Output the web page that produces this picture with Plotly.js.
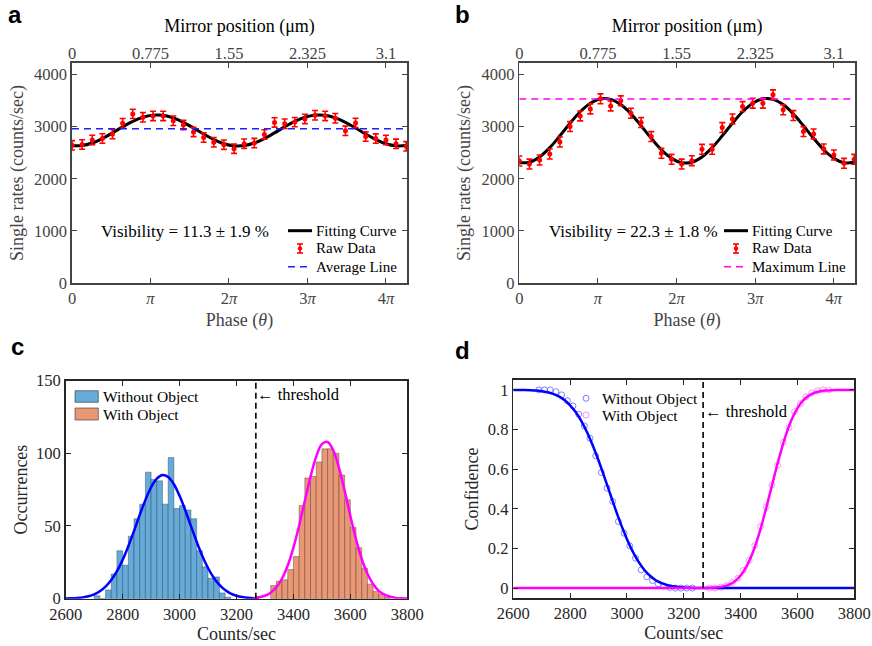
<!DOCTYPE html>
<html><head><meta charset="utf-8">
<script src="https://cdn.plot.ly/plotly-3.0.1.min.js"></script>
<style>html,body{margin:0;padding:0;background:#fff}#chart{width:872px;height:646px}</style>
</head><body><div id="chart"></div>
<script>
// ---------- Panels a / b : interference fringes ----------
const mirrorPos = [0,0.1,0.2,0.3,0.4,0.5,0.6,0.7,0.8,0.9,1.0,1.1,1.2,1.3,1.4,1.5,1.6,1.7,1.8,1.9,2.0,2.1,2.2,2.3,2.4,2.5,2.6,2.7,2.8,2.9,3.0,3.1,3.2,3.3];
const rawA = [2641,2657,2744,2772,2856,3064,3244,3179,3205,3205,3112,3029,2898,2790,2700,2653,2577,2673,2685,2850,3080,3055,3086,3148,3218,3205,3160,2920,3070,2808,2770,2744,2670,2622];
const errA = [90,90,90,90,90,90,90,90,90,90,90,90,90,90,90,90,90,90,90,90,90,90,90,90,90,90,90,90,90,90,90,90,90,90];
const fitA = [2632,2636,2685,2770,2880,2995,3101,3180,3220,3216,3167,3082,2972,2857,2751,2672,2632,2636,2685,2770,2880,2995,3101,3180,3220,3216,3167,3082,2972,2857,2751,2672,2632,2636];
const avgA = 2960;
const rawB = [2340,2282,2359,2474,2705,3000,3205,3340,3532,3397,3494,3256,3077,2808,2487,2372,2282,2346,2564,2564,2981,3147,3385,3449,3449,3609,3321,3212,2904,2859,2571,2455,2295,2372];
const errB = [95,95,95,95,95,95,95,95,95,95,95,95,95,95,95,95,95,95,95,95,95,95,95,95,95,95,95,95,95,95,95,95,95,95];
const fitB = [2307,2317,2418,2596,2823,3064,3285,3449,3533,3523,3422,3244,3017,2776,2555,2391,2307,2317,2418,2596,2823,3064,3285,3449,3533,3523,3422,3244,3017,2776,2555,2391,2307,2317];
const maxB = 3530;
// one phase period (pi) corresponds to 0.775 um of mirror travel
const mirrorTicks = [0,0.775,1.55,2.325,3.1];
const mirrorTickText = ['0','0.775','1.55','2.325','3.1'];
const phaseTickText = ['0','<i>π</i>','2<i>π</i>','3<i>π</i>','4<i>π</i>'];
const rateTicks = [0,1000,2000,3000,4000];
const visTextA = 'Visibility = 11.3 ± 1.9 %';
const visTextB = 'Visibility = 22.3 ± 1.8 %';

// ---------- Panel c : histograms ----------
const binCentersWithout = [2710,2730,2750,2770,2790,2810,2830,2850,2870,2890,2910,2930,2950,2970,2990,3010,3030,3050,3070,3090,3110,3130,3150,3170];
const countsWithout     = [2,0,6,17,33,23,43,55,65,87,82,81,65,97,62,64,61,55,33,22,14,15,4,1];
const binCentersWith = [3330,3350,3370,3390,3410,3430,3450,3470,3490,3510,3530,3550,3570,3590,3610,3630,3650,3670,3690,3710,3730];
const countsWith     = [9,12,13,20,29,64,83,84,94,103,103,100,85,68,49,35,21,10,5,3,1];
const binWidth = 20;
const gaussX1 = [2600,2620,2640,2660,2680,2700,2720,2740,2760,2780,2800,2820,2840,2860,2880,2900,2920,2940,2960,2980,3000,3020,3040,3060,3080,3100,3120,3140,3160,3180,3200,3220,3240,3260,3280];
const gaussY1 = [0.11,0.23,0.47,0.91,1.70,3.01,5.10,8.25,12.8,18.9,26.7,36.1,46.6,57.6,67.9,76.6,82.5,85.0,83.6,78.7,70.7,60.8,49.9,39.2,29.4,21.1,14.4,9.45,5.92,3.54,2.03,1.11,0.58,0.29,0.14];
const gaussX2 = [3260,3280,3300,3320,3340,3360,3380,3400,3420,3440,3460,3480,3500,3520,3540,3560,3580,3600,3620,3640,3660,3680,3700,3720,3740,3760,3780,3800];
const gaussY2 = [0.41,0.94,2.05,4.16,7.85,13.9,22.8,35.1,50.3,67.2,83.9,97.7,106.2,107.7,101.9,89.9,74.1,56.9,40.8,27.3,17.1,9.94,5.40,2.74,1.30,0.57,0.24,0.09];
const threshold = 3268;
const countTicks = [2600,2800,3000,3200,3400,3600,3800];

// ---------- Panel d : confidence ----------
const confXWithout = [2690,2710,2730,2750,2770,2790,2810,2830,2850,2870,2890,2910,2930,2950,2970,2990,3010,3030,3050,3070,3090,3110,3130,3150,3170,3190,3210,3230];
const confWithout  = [1.0,1.0,1.0,0.991,0.975,0.945,0.919,0.877,0.818,0.756,0.667,0.583,0.504,0.437,0.336,0.277,0.213,0.151,0.092,0.057,0.038,0.022,0.01,0.003,0,0,0,0];
const confXWith = [3290,3310,3330,3350,3370,3390,3410,3430,3450,3470,3490,3510,3530,3550,3570,3590,3610,3630,3650,3670,3690,3710];
const confWith  = [0.0,0.0,0.005,0.012,0.028,0.05,0.09,0.14,0.215,0.31,0.41,0.52,0.62,0.735,0.81,0.89,0.93,0.965,0.985,0.995,1.0,1.0];
const fitXWithout = [2600,2620,2640,2660,2680,2700,2720,2740,2760,2780,2800,2820,2840,2860,2880,2900,2920,2940,2960,2980,3000,3020,3040,3060,3080,3100,3120,3140,3160,3180,3200,3220,3240,3260,3280,3400,3500,3600,3700,3800];
const fitWithout  = [0.9998,0.9995,0.999,0.9981,0.9964,0.9933,0.9882,0.98,0.9673,0.9487,0.9223,0.887,0.8413,0.785,0.7187,0.6437,0.5628,0.4789,0.3963,0.3178,0.247,0.1855,0.1346,0.0941,0.0635,0.0412,0.0258,0.0155,0.0089,0.005,0.0026,0.0013,0.0007,0.0003,0,0,0,0,0,0];
const fitXWith = [2600,2700,2800,2900,3000,3100,3200,3260,3280,3300,3320,3340,3360,3380,3400,3420,3440,3460,3480,3500,3520,3540,3560,3580,3600,3620,3640,3660,3680,3700,3720,3740,3760,3780,3800];
const fitWith  = [0,0,0,0,0,0,0,0.0002,0.0006,0.0016,0.0038,0.0085,0.0179,0.0348,0.0632,0.107,0.1693,0.2511,0.3498,0.4602,0.5737,0.6813,0.7755,0.8515,0.908,0.9467,0.9713,0.9856,0.9933,0.9971,0.9988,0.9996,0.9998,1,1];
const confTicks = [0,0.2,0.4,0.6,0.8,1];
const confTickText = ['0','0.2','0.4','0.6','0.8','1'];

// ---------- styling ----------
const serif = 'Liberation Serif, Times New Roman, serif';
const W = 872, H = 646;
const X = p => p / W, Y = p => 1 - p / H;
const mirrorMax = 3.308;

function axis(o, labelColor, lineColor) {
  return Object.assign({
    showline: true, linecolor: lineColor, linewidth: 1.6, mirror: 'ticks',
    ticks: 'inside', ticklen: 5, tickwidth: 1, tickcolor: lineColor,
    showgrid: false, zeroline: false, fixedrange: true,
    tickfont: {family: serif, size: 16.5, color: labelColor}
  }, o);
}
function ttl(text, color, standoff) {
  return {text: text, font: {family: serif, size: 18, color: color}, standoff: standoff};
}
const gA = '#444444', gC = '#262626';

const traces = [
  // a
  {x: mirrorPos, y: fitA, xaxis: 'x', yaxis: 'y', mode: 'lines', line: {color: '#000', width: 3, shape: 'spline'}},
  {x: [0, mirrorMax], y: [avgA, avgA], xaxis: 'x2', yaxis: 'y', mode: 'lines', line: {color: '#1f1fff', width: 1.6, dash: '7px,5px'}},
  {x: mirrorPos, y: rawA, xaxis: 'x', yaxis: 'y', mode: 'markers', marker: {color: '#ff0000', size: 5},
   error_y: {type: 'data', array: errA, color: '#ff0000', thickness: 1.6, width: 3}},
  // b
  {x: mirrorPos, y: fitB, xaxis: 'x3', yaxis: 'y3', mode: 'lines', line: {color: '#000', width: 3, shape: 'spline'}},
  {x: [0, mirrorMax], y: [maxB, maxB], xaxis: 'x4', yaxis: 'y3', mode: 'lines', line: {color: '#ff00ff', width: 1.6, dash: '7px,5px'}},
  {x: mirrorPos, y: rawB, xaxis: 'x3', yaxis: 'y3', mode: 'markers', marker: {color: '#ff0000', size: 5},
   error_y: {type: 'data', array: errB, color: '#ff0000', thickness: 1.6, width: 3}},
  // c
  {type: 'bar', x: binCentersWithout, y: countsWithout, width: binWidth, xaxis: 'x5', yaxis: 'y5',
   marker: {color: 'rgb(102,170,215)', line: {color: 'rgba(30,50,70,0.55)', width: 0.7}}},
  {type: 'bar', x: binCentersWith, y: countsWith, width: binWidth, xaxis: 'x5', yaxis: 'y5',
   marker: {color: 'rgb(232,152,117)', line: {color: 'rgba(70,40,30,0.55)', width: 0.7}}},
  {x: gaussX1, y: gaussY1, xaxis: 'x5', yaxis: 'y5', mode: 'lines', line: {color: '#0000ff', width: 2.5, shape: 'spline'}},
  {x: gaussX2, y: gaussY2, xaxis: 'x5', yaxis: 'y5', mode: 'lines', line: {color: '#ff00ff', width: 2.5, shape: 'spline'}},
  {x: [threshold, threshold], y: [0, 150], xaxis: 'x5', yaxis: 'y5', mode: 'lines', line: {color: '#000', width: 1.6, dash: '6px,4px'}},
  // d
  {x: confXWithout, y: confWithout, xaxis: 'x6', yaxis: 'y6', mode: 'markers', marker: {symbol: 'circle-open', size: 6, color: 'rgba(90,90,255,0.75)', line: {width: 1}}},
  {x: confXWith, y: confWith, xaxis: 'x6', yaxis: 'y6', mode: 'markers', marker: {symbol: 'circle-open', size: 6, color: 'rgba(255,110,255,0.75)', line: {width: 1}}},
  {x: fitXWithout, y: fitWithout, xaxis: 'x6', yaxis: 'y6', mode: 'lines', line: {color: '#0000ff', width: 2.5, shape: 'spline'}},
  {x: fitXWith, y: fitWith, xaxis: 'x6', yaxis: 'y6', mode: 'lines', line: {color: '#ff00ff', width: 2.5, shape: 'spline'}},
  {x: [threshold, threshold], y: [-0.05, 1.05], xaxis: 'x6', yaxis: 'y6', mode: 'lines', line: {color: '#000', width: 1.6, dash: '6px,4px'}}
];

const ann = [];
const shp = [];
function txt(t, x, y, size, opts) {
  ann.push(Object.assign({text: t, x: X(x), y: Y(y), xref: 'paper', yref: 'paper', showarrow: false,
    xanchor: 'left', yanchor: 'middle', font: {family: serif, size: size, color: '#000'}}, opts || {}));
}
function seg(x0, y0, x1, y1, color, width, dash) {
  shp.push({type: 'line', xref: 'paper', yref: 'paper', x0: X(x0), y0: Y(y0), x1: X(x1), y1: Y(y1),
    line: {color: color, width: width, dash: dash || 'solid'}});
}
function circ(cx, cy, r, line, fill) {
  shp.push({type: 'circle', xref: 'paper', yref: 'paper', x0: X(cx - r), x1: X(cx + r), y0: Y(cy + r), y1: Y(cy - r),
    line: {color: line, width: 1}, fillcolor: fill || 'rgba(0,0,0,0)'});
}
function rect(x0, y0, x1, y1, fill) {
  shp.push({type: 'rect', xref: 'paper', yref: 'paper', x0: X(x0), x1: X(x1), y0: Y(y1), y1: Y(y0),
    line: {color: 'rgba(40,40,40,0.7)', width: 0.8}, fillcolor: fill});
}
// panel letters
[['a', 15, 14], ['b', 462, 14], ['c', 17, 346], ['d', 463, 350]].forEach(l => {
  ann.push({text: '<b>' + l[0] + '</b>', x: X(l[1]), y: Y(l[2]), xref: 'paper', yref: 'paper', showarrow: false,
    xanchor: 'center', yanchor: 'middle', font: {family: 'Liberation Sans, Arial, sans-serif', size: 24, color: '#000'}});
});
// visibility texts
txt(visTextA, 185, 232, 17, {xanchor: 'center'});
txt(visTextB, 633, 232, 17, {xanchor: 'center'});
// legend a / b
function fringeLegend(x0, lineLabel, lineColor) {
  seg(x0, 230.7, x0 + 24, 230.7, '#000', 3);
  txt('Fitting Curve', x0 + 26, 230.7, 15);
  const ex = x0 + 12;
  seg(ex, 244, ex, 253, '#ff0000', 1.6);
  seg(ex - 3, 244, ex + 3, 244, '#ff0000', 1.6);
  seg(ex - 3, 253, ex + 3, 253, '#ff0000', 1.6);
  circ(ex, 248.5, 1.8, '#ff0000', '#ff0000');
  txt('Raw Data', x0 + 26, 248.3, 15);
  seg(x0, 266.7, x0 + 22, 266.7, lineColor, 1.6, '7px,5px');
  txt(lineLabel, x0 + 26, 266.7, 15);
}
fringeLegend(288, 'Average Line', '#1f1fff');
fringeLegend(724, 'Maximum Line', '#ff00ff');
// legend c
rect(75, 390.7, 98.3, 402.3, 'rgb(102,170,215)');
rect(75, 408, 98.3, 420, 'rgb(232,152,117)');
txt('Without Object', 101, 396.5, 15.5);
txt('With Object', 101, 414, 15.5);
txt('← threshold', 255, 395, 16.5);
// legend d
circ(586, 398.3, 3, 'rgba(90,90,255,0.8)');
circ(586, 415, 3, 'rgba(255,110,255,0.8)');
txt('Without Object', 600, 398.3, 15.5);
txt('With Object', 600, 415, 15.5);
txt('← threshold', 703, 411.7, 16.5);

function fringeAxes(xd, xid, yid) {
  return {
    bottom: axis({domain: xd, anchor: yid, range: [0, mirrorMax], tickvals: mirrorTicks, ticktext: phaseTickText,
      mirror: true, title: ttl('Phase (<i>θ</i>)', gA, 6)}, gA, gA),
    top: axis({overlaying: xid, side: 'top', anchor: yid, range: [0, mirrorMax], tickvals: mirrorTicks, ticktext: mirrorTickText,
      showline: false, mirror: false, title: ttl('Mirror position (μm)', '#000', 6)}, gA, gA),
    left: axis({domain: [Y(283), Y(63)], anchor: xid, range: [0, 4220], tickvals: rateTicks,
      title: ttl('Single rates (counts/sec)', gA, 6)}, gA, gA)
  };
}
const fa = fringeAxes([X(72), X(407)], 'x', 'y');
const fb = fringeAxes([X(519.3), X(855)], 'x3', 'y3');

const layout = {
  width: W, height: H, margin: {l: 0, r: 0, t: 0, b: 0}, showlegend: false,
  paper_bgcolor: '#fff', plot_bgcolor: '#fff', bargap: 0, barmode: 'overlay',
  font: {family: serif},
  xaxis: fa.bottom, xaxis2: fa.top, yaxis: fa.left,
  xaxis3: fb.bottom, xaxis4: fb.top, yaxis3: fb.left,
  xaxis5: axis({domain: [X(65.7), X(407.3)], anchor: 'y5', range: [2600, 3800], tickvals: countTicks,
    title: ttl('Counts/sec', gC, 4)}, gC, gC),
  yaxis5: axis({domain: [Y(598.7), Y(380.5)], anchor: 'x5', range: [0, 150], tickvals: [0, 50, 100, 150],
    title: ttl('Occurrences', gC, 4)}, gC, gC),
  xaxis6: axis({domain: [X(513.3), X(854.3)], anchor: 'y6', range: [2600, 3800], tickvals: countTicks,
    title: ttl('Counts/sec', gC, 4)}, gC, gC),
  yaxis6: axis({domain: [Y(598), Y(380)], anchor: 'x6', range: [-0.05, 1.05], tickvals: confTicks, ticktext: confTickText,
    title: ttl('Confidence', gC, 4)}, gC, gC),
  annotations: ann,
  shapes: shp
};
Plotly.newPlot('chart', traces, layout, {displayModeBar: false, staticPlot: true});
</script></body></html>
